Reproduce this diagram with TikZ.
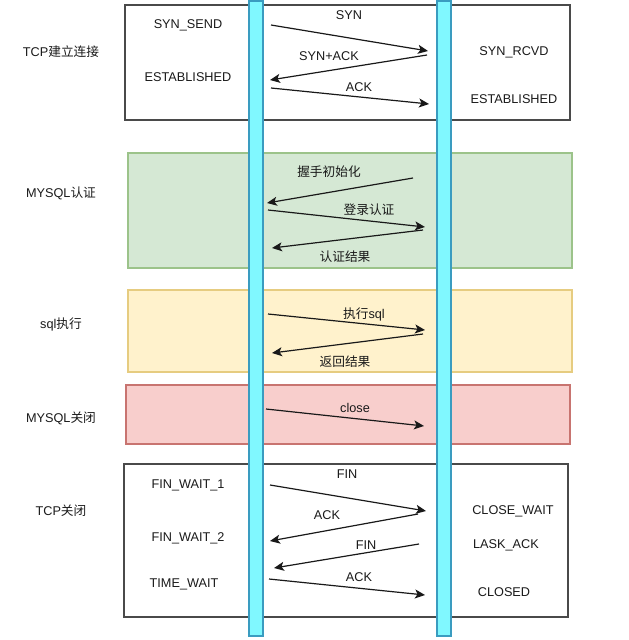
\documentclass[tikz,border=0pt]{standalone}
\usepackage{fontspec}
\setmainfont{Liberation Sans}
\newfontfamily\cjk{Noto Sans CJK SC}
\usetikzlibrary{arrows.meta}
\definecolor{boxline}{HTML}{4A4A4A}
\definecolor{gfill}{HTML}{D5E8D4}\definecolor{gline}{HTML}{9CC38A}
\definecolor{yfill}{HTML}{FFF2CC}\definecolor{yline}{HTML}{E6CC80}
\definecolor{rfill}{HTML}{F8CECC}\definecolor{rline}{HTML}{C87470}
\definecolor{barfill}{HTML}{80F8FF}\definecolor{barline}{HTML}{3A9CC0}
\definecolor{txt}{HTML}{1A1A1A}
\tikzset{
  stage/.style={line width=1.3pt},
  lane/.style={fill=barfill,draw=barline,line width=1.2pt},
  lbl/.style={inner sep=0pt,font=\fontsize{12.7}{15}\selectfont,text=txt},
  msg/.style={line width=1.2pt,black!90,-{Stealth[length=10pt,width=9pt,inset=2.5pt]}},
}
\begin{document}
\begin{tikzpicture}[x=1pt,y=-1pt]
\useasboundingbox (0,0) rectangle (629,640);
% stage boxes
\draw[stage,draw=boxline,fill=white] (125,5) rectangle (570,120);
\draw[stage,draw=gline,fill=gfill] (128,153) rectangle (572,268);
\draw[stage,draw=yline,fill=yfill] (128,290) rectangle (572,372);
\draw[stage,draw=rline,fill=rfill] (126,385) rectangle (570,444);
\draw[stage,draw=boxline,fill=white] (124,464) rectangle (568,617);
% lanes
\draw[lane] (249,1) rectangle (263,636);
\draw[lane] (437,1) rectangle (451,636);
% stage titles
\node[lbl] (t1) at (61,52) {TCP{\cjk 建立连接}};
\node[lbl] (t2) at (61,193) {MYSQL{\cjk 认证}};
\node[lbl] (t3) at (61,324) {sql{\cjk 执行}};
\node[lbl] (t4) at (61,418) {MYSQL{\cjk 关闭}};
\node[lbl] (t5) at (61,511) {TCP{\cjk 关闭}};
% states
\node[lbl] (s1) at (188,25) {SYN\_SEND};
\node[lbl] (s2) at (188,77) {ESTABLISHED};
\node[lbl] (s3) at (514,52) {SYN\_RCVD};
\node[lbl] (s4) at (514,99) {ESTABLISHED};
\node[lbl] (s5) at (188,485) {FIN\_WAIT\_1};
\node[lbl] (s6) at (188,538) {FIN\_WAIT\_2};
\node[lbl] (s7) at (184,584) {TIME\_WAIT};
\node[lbl] (s8) at (513,511) {CLOSE\_WAIT};
\node[lbl] (s9) at (506,545) {LASK\_ACK};
\node[lbl] (s10) at (504,592) {CLOSED};
% message end points
\coordinate (a1) at (271,25);  \coordinate (b1) at (428,51);
\coordinate (a2) at (427,55);  \coordinate (b2) at (270,80);
\coordinate (a3) at (271,88);  \coordinate (b3) at (429,104);
\coordinate (a4) at (413,178); \coordinate (b4) at (267,203);
\coordinate (a5) at (268,210); \coordinate (b5) at (425,227);
\coordinate (a6) at (423,230); \coordinate (b6) at (272,248);
\coordinate (a7) at (268,314); \coordinate (b7) at (425,330);
\coordinate (a8) at (423,334); \coordinate (b8) at (272,353);
\coordinate (a9) at (266,409); \coordinate (b9) at (424,426);
\coordinate (a10) at (270,485); \coordinate (b10) at (426,511);
\coordinate (a11) at (418,514); \coordinate (b11) at (270,541);
\coordinate (a12) at (419,544); \coordinate (b12) at (274,568);
\coordinate (a13) at (269,579); \coordinate (b13) at (425,595);
\draw[msg] (a1) -- (b1);
\draw[msg] (a2) -- (b2);
\draw[msg] (a3) -- (b3);
\draw[msg] (a4) -- (b4);
\draw[msg] (a5) -- (b5);
\draw[msg] (a6) -- (b6);
\draw[msg] (a7) -- (b7);
\draw[msg] (a8) -- (b8);
\draw[msg] (a9) -- (b9);
\draw[msg] (a10) -- (b10);
\draw[msg] (a11) -- (b11);
\draw[msg] (a12) -- (b12);
\draw[msg] (a13) -- (b13);
% message labels
\node[lbl] (m1) at (349,15) {SYN};
\node[lbl] (m2) at (329,56) {SYN+ACK};
\node[lbl] (m3) at (359,87) {ACK};
\node[lbl] (m4) at (329,172) {\cjk 握手初始化};
\node[lbl] (m5) at (369,210) {\cjk 登录认证};
\node[lbl] (m6) at (345,257) {\cjk 认证结果};
\node[lbl] (m7) at (364,314) {{\cjk 执行}sql};
\node[lbl] (m8) at (345,362) {\cjk 返回结果};
\node[lbl] (m9) at (355,408) {close};
\node[lbl] (m10) at (347,474) {FIN};
\node[lbl] (m11) at (327,515) {ACK};
\node[lbl] (m12) at (366,545) {FIN};
\node[lbl] (m13) at (359,577) {ACK};
\end{tikzpicture}
\end{document}
